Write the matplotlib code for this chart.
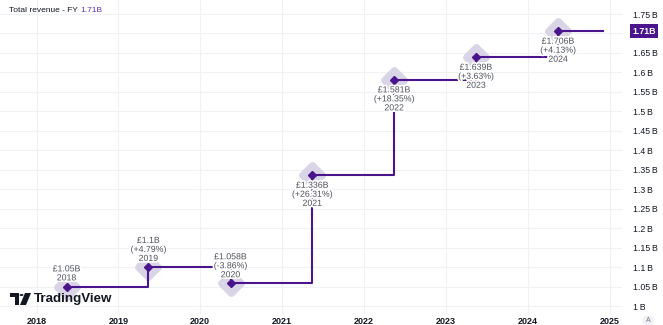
import matplotlib
matplotlib.use("Agg")
import matplotlib.pyplot as plt
import matplotlib.dates as mdates
import matplotlib.patheffects as pe
from matplotlib.markers import MarkerStyle
from matplotlib.patches import Polygon, Circle
import pandas as pd

# fiscal-year total revenue (billions GBP)
years = [2018, 2019, 2020, 2021, 2022, 2023, 2024]
report_dates = pd.to_datetime([f"{y}-05-15" for y in years])
revenue = [1.05, 1.1, 1.058, 1.336, 1.581, 1.639, 1.706]
value_labels = ["£1.05B", "£1.1B", "£1.058B", "£1.336B", "£1.581B", "£1.639B", "£1.706B"]
changes = [None, "+4.79%", "-3.86%", "+26.31%", "+18.35%", "+3.63%", "+4.13%"]
label_above = [True, True, True, False, False, False, False]
line_end = pd.Timestamp("2024-11-30")
last_value = "1.71B"
y_ticks = [1.0, 1.05, 1.1, 1.15, 1.2, 1.25, 1.3, 1.35, 1.4, 1.45, 1.5, 1.55, 1.6, 1.65, 1.7, 1.75]

W, H = 663, 325
purple = "#4a148c"
halo = "#dad4e7"
txt = "#131722"
grey = "#4f525c"

plt.rcParams["font.family"] = ["Liberation Sans", "DejaVu Sans"]

fig = plt.figure(figsize=(W / 100, H / 100), dpi=100)
ax = fig.add_axes([0, 11 / H, 622 / W, 314 / H])

# step line
xs = list(report_dates) + [line_end]
ys = revenue + [revenue[-1]]
ax.step(xs, ys, where="post", color=purple, lw=1.5, zorder=3)

# halos + markers
ax.plot(report_dates, revenue, ls="none", marker=MarkerStyle("D", joinstyle="round"),
        ms=10, mfc=halo, mec=halo, mew=5, zorder=2)
ax.plot(report_dates, revenue, ls="none", marker="D", ms=4.2, color=purple, zorder=4)

for d, v, lab, ch, up, y in zip(report_dates, revenue, value_labels, changes, label_above, years):
    lines = [lab] + ([f"({ch})"] if ch else []) + [str(y)]
    ax.annotate("\n".join(lines), (d, v), xytext=(0, 3 if up else -4), textcoords="offset points",
                ha="center", va="bottom" if up else "top", fontsize=6.3, linespacing=1.0,
                color=grey, zorder=5,
                path_effects=[pe.withStroke(linewidth=2.5, foreground="white")])

ax.set_xlim(pd.Timestamp("2017-07-22"), pd.Timestamp("2025-02-24"))
ax.set_ylim(0.9795, 1.786)

ax.xaxis.set_major_locator(mdates.YearLocator())
ax.xaxis.set_major_formatter(mdates.DateFormatter("%Y"))
ax.set_yticks(y_ticks)
ax.set_yticklabels([("" if abs(t - 1.7) < 1e-9 else f"{t:g}\u2009B") for t in y_ticks])
ax.yaxis.tick_right()
ax.tick_params(axis="y", length=0, pad=8, labelsize=6.3, labelcolor=txt)
ax.tick_params(axis="x", length=0, pad=2, labelsize=6.5, labelcolor=txt)
for t in ax.get_xticklabels():
    t.set_fontweight("bold")
ax.grid(True, color="#f0f1f4", lw=0.8)
ax.set_axisbelow(True)
for s in ax.spines.values():
    s.set_visible(False)

# last value tag
ax.annotate(last_value, xy=(1, revenue[-1]), xycoords=("axes fraction", "data"),
            xytext=(7.5, 0), textcoords="offset points", ha="left", va="center",
            fontsize=6.3, color="white", fontweight="bold",
            bbox=dict(boxstyle="square,pad=0.25", fc=purple, ec="none"), annotation_clip=False)

# header
fig.text(9 / W, 1 - 10 / H, "Total revenue - FY", fontsize=6, color=txt, va="center")
fig.text(80 / W, 1 - 10 / H, last_value, fontsize=6, color="#5e35b1", va="center")

# TradingView watermark
def px(x, y):
    return (x / W, 1 - y / H)

fig.patches.append(Polygon([px(10, 293), px(19, 293), px(19, 305), px(15, 305), px(15, 297), px(10, 297)],
                           closed=True, transform=fig.transFigure, fc=txt, ec="none"))
fig.patches.append(Circle(px(21.5, 295), 2 / W, transform=fig.transFigure, fc=txt, ec="none"))
fig.patches.append(Polygon([px(25, 293), px(31, 293), px(26, 305), px(20, 305)],
                           closed=True, transform=fig.transFigure, fc=txt, ec="none"))
fig.text(34 / W, 1 - 299 / H, "TradingView", fontsize=9.6, fontweight="bold", color=txt, va="center")

fig.text(648 / W, 1 - 321 / H, "A", fontsize=5, color="#787b86", ha="center", va="center",
         bbox=dict(boxstyle="circle,pad=0.3", fc="#f0f1f4", ec="none"))

fig.savefig("out.png", dpi=100)
